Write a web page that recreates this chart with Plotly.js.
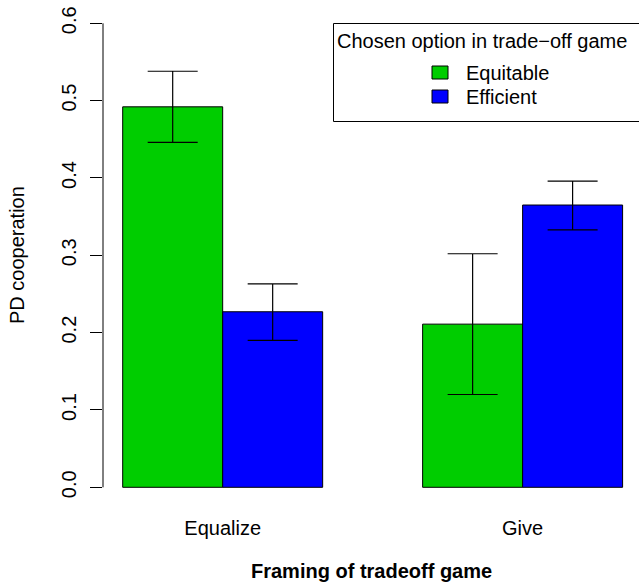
<!DOCTYPE html>
<html>
<head>
<meta charset="utf-8">
<script src="https://cdn.plot.ly/plotly-3.0.1.min.js"></script>
<style>
html,body{margin:0;padding:0;background:#fff;overflow:hidden;}
#chart{width:639px;height:584px;}
</style>
</head>
<body>
<div id="chart"></div>
<script>
// ---- data ----
const categories = ["Equalize", "Give"];
const seriesNames = ["Equitable", "Efficient"];
const equitable = [0.492, 0.211];
const equitableUpper = [0.538, 0.302];
const equitableLower = [0.446, 0.120];
const efficient = [0.227, 0.365];
const efficientUpper = [0.263, 0.396];
const efficientLower = [0.190, 0.333];
const yTicks = [0, 0.1, 0.2, 0.3, 0.4, 0.5, 0.6];
const yTickText = ["0.0", "0.1", "0.2", "0.3", "0.4", "0.5", "0.6"];
const legendTitle = "Chosen option in trade\u2212off game";
const xTitle = "Framing of tradeoff game";
const yTitle = "PD cooperation";

const colors = ["#00CD00", "#0000FF"];
const FONT = "Liberation Sans, Arial, Helvetica, sans-serif";

function errs(vals, up, lo) {
  return {
    type: "data",
    array: vals.map((v, i) => up[i] - v),
    arrayminus: vals.map((v, i) => v - lo[i]),
    color: "#000",
    thickness: 1.2,
    width: 25
  };
}

const traces = [
  {type: "bar", name: seriesNames[0], x: categories, y: equitable,
   marker: {color: colors[0], line: {color: "#000", width: 1}},
   error_y: errs(equitable, equitableUpper, equitableLower)},
  {type: "bar", name: seriesNames[1], x: categories, y: efficient,
   marker: {color: colors[1], line: {color: "#000", width: 1}},
   error_y: errs(efficient, efficientUpper, efficientLower)}
];

// layout geometry
const W = 639, H = 584;
const mL = 103, mR = 0, mT = 5, mB = 78;
const plotW = W - mL - mR, plotH = H - mT - mB;
const px2paperX = p => (p - mL) / plotW;
const px2paperY = p => (H - mB - p) / plotH;

const shapes = [
  // y axis line from 0 to 0.6
  {type: "line", xref: "paper", yref: "y", x0: 0, x1: 0, y0: yTicks[0], y1: yTicks[yTicks.length - 1],
   line: {color: "#000", width: 1}},
  // legend box
  {type: "rect", xref: "paper", yref: "paper",
   x0: px2paperX(333.5), x1: px2paperX(660), y0: px2paperY(121.5), y1: px2paperY(23.5),
   line: {color: "#000", width: 1}, fillcolor: "rgba(255,255,255,1)"},
  // legend keys
  {type: "rect", xref: "paper", yref: "paper",
   x0: px2paperX(432), x1: px2paperX(448), y0: px2paperY(79), y1: px2paperY(66),
   line: {color: "#000", width: 1}, fillcolor: colors[0]},
  {type: "rect", xref: "paper", yref: "paper",
   x0: px2paperX(432), x1: px2paperX(448), y0: px2paperY(103), y1: px2paperY(90),
   line: {color: "#000", width: 1}, fillcolor: colors[1]}
];

const annotations = [
  {text: legendTitle, xref: "paper", yref: "paper", x: px2paperX(335), y: px2paperY(41),
   xanchor: "left", yanchor: "middle", showarrow: false, font: {family: FONT, size: 20, color: "#000"}},
  {text: seriesNames[0], xref: "paper", yref: "paper", x: px2paperX(464), y: px2paperY(73),
   xanchor: "left", yanchor: "middle", showarrow: false, font: {family: FONT, size: 20, color: "#000"}},
  {text: seriesNames[1], xref: "paper", yref: "paper", x: px2paperX(464), y: px2paperY(97),
   xanchor: "left", yanchor: "middle", showarrow: false, font: {family: FONT, size: 20, color: "#000"}},
  {text: "<b>" + xTitle + "</b>", xref: "paper", yref: "paper", x: px2paperX(371), y: px2paperY(571),
   xanchor: "center", yanchor: "middle", showarrow: false, font: {family: FONT, size: 20, color: "#000"}},
  {text: yTitle, xref: "paper", yref: "paper", x: px2paperX(17), y: px2paperY(255),
   xanchor: "center", yanchor: "middle", textangle: -90, showarrow: false,
   font: {family: FONT, size: 20, color: "#000"}}
];

const layout = {
  width: W, height: H,
  margin: {l: mL, r: mR, t: mT, b: mB, pad: 0},
  paper_bgcolor: "#fff", plot_bgcolor: "#fff",
  barmode: "group", bargap: 1/3, bargroupgap: 0,
  showlegend: false,
  font: {family: FONT, size: 20, color: "#000"},
  xaxis: {type: "category", range: [-0.399, 1.388], showline: false, showgrid: false, zeroline: false,
          ticks: "", tickfont: {family: FONT, size: 20, color: "#000"}, ticklabelstandoff: 8, fixedrange: true},
  yaxis: {range: [-0.02418, 0.62366], tickvals: yTicks, ticktext: yTickText, tickangle: -90,
          ticks: "outside", ticklen: 12, tickcolor: "#000", tickwidth: 1,
          showline: false, showgrid: false, zeroline: false,
          tickfont: {family: FONT, size: 20, color: "#000"}, ticklabelstandoff: 6, fixedrange: true},
  shapes: shapes,
  annotations: annotations
};

Plotly.newPlot("chart", traces, layout, {displayModeBar: false, staticPlot: true});
</script>
</body>
</html>
